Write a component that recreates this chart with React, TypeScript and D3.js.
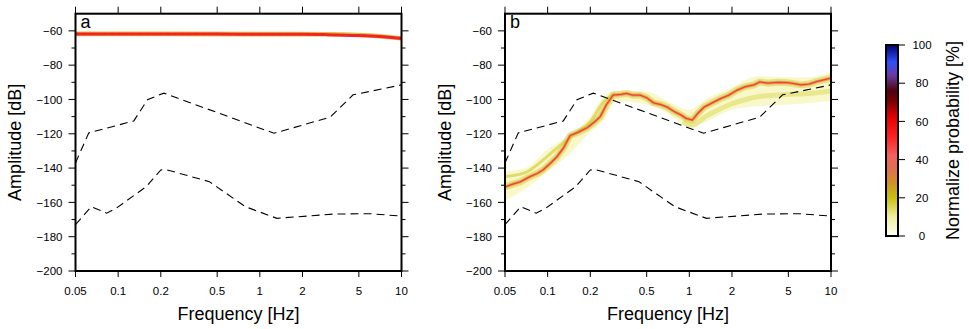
import * as d3 from "d3"

// ---- axes ----
const FREQ_TICKS = [0.05, 0.1, 0.2, 0.5, 1, 2, 5, 10]
const AMP_LABELS = [-60, -80, -100, -120, -140, -160, -180, -200]
const AMP_MINOR = [-70, -90, -110, -130, -150, -170, -190]
const PROB_TICKS = [0, 20, 40, 60, 80, 100]

// ---- noise model (dashed) ----
const HIGH_F = [0.05, 0.062, 0.129, 0.161, 0.21, 1.26, 3.14, 4.55, 10]
const HIGH_DB = [-137, -119.5, -112.5, -100.2, -96.3, -119.7, -110.3, -97.3, -91.5]
const LOW_F = [0.05, 0.0646, 0.083, 0.097, 0.158, 0.2, 0.22, 0.44, 0.79, 1.32, 3.3, 6, 10]
const LOW_DB = [-173, -162.5, -166.3, -163.4, -150.8, -141.1, -141, -147.9, -162.5, -169.3, -166.8, -166.6, -168]

// ---- panel a ----
const A_F = [0.05, 0.1, 0.5, 1, 2, 3, 5, 7, 10]
const A_CORE = [-61.9, -61.9, -61.9, -62, -62, -62.2, -62.7, -63.3, -64.4]
const A_BAND_F = [0.05, 3, 5, 7, 10]
const A_HI = [-60.4, -60.6, -61.1, -61.9, -63.1]
const A_LO = [-63.2, -63.3, -63.8, -64.5, -65.6]

// ---- panel b ----
const B_F = [0.05, 0.056, 0.064, 0.075, 0.085, 0.093, 0.105, 0.116, 0.13, 0.144, 0.165, 0.19, 0.215, 0.235, 0.26, 0.29, 0.33, 0.36, 0.4, 0.45, 0.5, 0.56, 0.63, 0.7, 0.78, 0.87, 0.95, 1.05, 1.15, 1.27, 1.45, 1.66, 1.9, 2.18, 2.5, 2.86, 3.14, 3.6, 4.2, 4.93, 5.5, 6.13, 7, 8, 9, 10]
const B_CORE = [-151, -149.5, -148, -145, -143, -141, -137, -133.5, -128, -121, -119, -116.5, -113, -110, -103, -97.5, -97, -96.5, -97.5, -97.5, -99, -102, -103, -104.5, -107, -109, -111, -112, -108, -104.5, -102, -99.5, -97.5, -94.5, -92.5, -91.5, -89.8, -90.5, -90, -90.2, -90.8, -91.5, -91, -89.5, -88.5, -87.5]
// fainter side bundles
const B_UP_F = [0.05, 0.07, 0.1, 0.13, 0.15, 0.2, 0.25, 0.3]
const B_UP_DB = [-145, -142.5, -133, -125, -121, -113, -101, -96.5]
const B_DN_F = [0.9, 1.05, 1.3, 1.6, 2, 2.5, 3, 4, 5, 7, 10]
const B_DN_DB = [-113, -115, -110, -106, -102.5, -100, -98.5, -97.5, -97, -96.5, -95]
const B_BAND_F = [0.05, 0.07, 0.1, 0.15, 0.2, 0.25, 0.3, 0.5, 0.7, 1, 1.3, 2, 3, 5, 7, 10]
const B_HI = [-142, -140, -129, -119.5, -110, -98, -95, -95.3, -101, -106, -100, -93, -86.6, -87, -87, -84]
const B_LO = [-159, -152, -142, -130, -119, -112, -101, -103, -108, -116, -113, -106, -104, -103, -102, -101]

// ---- colour scale ----
const CMAP_POS = [0, 10, 20, 28, 35, 42, 52, 62, 70, 76, 84, 91, 100]
const CMAP_COL = ["#fffff2", "#f0f0a0", "#c9c00e", "#d09028", "#e07050", "#f26262", "#ff2020", "#e80000", "#800000", "#500010", "#6a3aa0", "#3050ff", "#000070"]

const W = 969
const H = 329
const TOP = 13.7
const BOTTOM = 271
const PW = 326
const FONT = "'Liberation Sans', Arial, Helvetica, sans-serif"

type Scales = { x: d3.ScaleLogarithmic<number, number>; y: d3.ScaleLinear<number, number> }

function Panel({ left, label, id, draw }: { left: number; label: string; id: string; draw: (s: Scales) => React.ReactNode }) {
  const x = d3.scaleLog().domain([0.05, 10]).range([left, left + PW])
  const y = d3.scaleLinear().domain([-200, -50]).range([BOTTOM, TOP])
  const right = left + PW
  const dashed = d3.line<number>().x((_, i) => x(HIGH_F[i])).y((d) => y(d))
  const dashedLow = d3.line<number>().x((_, i) => x(LOW_F[i])).y((d) => y(d))
  return (
    <g>
      <defs>
        <clipPath id={id}>
          <rect x={left} y={TOP} width={PW} height={BOTTOM - TOP} />
        </clipPath>
      </defs>
      <g clipPath={`url(#${id})`}>
        {draw({ x, y })}
        <path d={dashed(HIGH_DB) ?? ""} fill="none" stroke="#000" strokeWidth={1.1} strokeDasharray="8,5" />
        <path d={dashedLow(LOW_DB) ?? ""} fill="none" stroke="#000" strokeWidth={1.1} strokeDasharray="8,5" />
      </g>
      {/* y ticks, both sides */}
      {AMP_LABELS.map((v) => (
        <g key={v}>
          <line x1={left - 7} x2={left} y1={y(v)} y2={y(v)} stroke="#000" strokeWidth={1} />
          <line x1={right} x2={right + 7} y1={y(v)} y2={y(v)} stroke="#000" strokeWidth={1} />
          <text x={left - 13} y={y(v)} dy="0.36em" textAnchor="end" fontSize={11.5} fontFamily={FONT}>
            {v < 0 ? `\u2212${-v}` : v}
          </text>
        </g>
      ))}
      {AMP_MINOR.map((v) => (
        <g key={v}>
          <line x1={left - 4} x2={left} y1={y(v)} y2={y(v)} stroke="#000" strokeWidth={1} />
          <line x1={right} x2={right + 4} y1={y(v)} y2={y(v)} stroke="#000" strokeWidth={1} />
        </g>
      ))}
      {/* x ticks, top and bottom */}
      {FREQ_TICKS.map((f) => (
        <g key={f}>
          <line x1={x(f)} x2={x(f)} y1={TOP - 7} y2={TOP} stroke="#000" strokeWidth={1} />
          <line x1={x(f)} x2={x(f)} y1={BOTTOM} y2={BOTTOM + 6} stroke="#000" strokeWidth={1} />
          <text x={x(f)} y={295} textAnchor="middle" fontSize={11.5} fontFamily={FONT}>
            {f}
          </text>
        </g>
      ))}
      <rect x={left} y={TOP} width={PW} height={BOTTOM - TOP} fill="none" stroke="#000" strokeWidth={2} />
      <rect x={left + 2} y={TOP + 1.5} width={15} height={14} fill="#fff" />
      <text x={left + 5} y={27.5} fontSize={18} fontFamily={FONT}>
        {label}
      </text>
      <text x={(left + right) / 2} y={320} textAnchor="middle" fontSize={18} fontFamily={FONT}>
        Frequency [Hz]
      </text>
      <text transform={`translate(${left - 54.5},${(TOP + BOTTOM) / 2}) rotate(-90)`} textAnchor="middle" fontSize={18} fontFamily={FONT}>
        Amplitude [dB]
      </text>
    </g>
  )
}

function ColorBar() {
  const x0 = 886
  const x1 = 898
  const p = d3.scaleLinear().domain([0, 100]).range([236, 45])
  return (
    <g>
      <defs>
        <linearGradient id="cmap" x1="0" y1="1" x2="0" y2="0">
          {CMAP_POS.map((v, i) => (
            <stop key={v} offset={`${v}%`} stopColor={CMAP_COL[i]} />
          ))}
        </linearGradient>
      </defs>
      <rect x={x0} y={p(100)} width={x1 - x0} height={p(0) - p(100)} fill="url(#cmap)" stroke="#000" strokeWidth={2} />
      {PROB_TICKS.map((t) => (
        <g key={t}>
          <line x1={x1} x2={x1 + 7} y1={p(t)} y2={p(t)} stroke="#000" strokeWidth={1} />
          <text x={922} y={p(t)} dy="0.36em" textAnchor="middle" fontSize={11.5} fontFamily={FONT}>
            {t}
          </text>
        </g>
      ))}
      <text transform={`translate(959,${(p(0) + p(100)) / 2}) rotate(-90)`} textAnchor="middle" fontSize={18} fontFamily={FONT}>
        Normalize probability [%]
      </text>
    </g>
  )
}

export default function App() {
  const cmap = d3.scaleLinear<string>().domain(CMAP_POS).range(CMAP_COL)

  const drawA = ({ x, y }: Scales) => {
    const band = d3
      .area<number>()
      .x((_, i) => x(A_BAND_F[i]))
      .y0((_, i) => y(A_LO[i]))
      .y1((d) => y(d))
      .curve(d3.curveMonotoneX)
    const core = d3
      .line<number>()
      .x((_, i) => x(A_F[i]))
      .y((d) => y(d))
      .curve(d3.curveMonotoneX)
    return (
      <g>
        <path d={band(A_HI) ?? ""} fill={cmap(22)} opacity={0.8} />
        <path d={core(A_CORE) ?? ""} fill="none" stroke={cmap(52)} strokeWidth={3} />
        <path d={core(A_CORE) ?? ""} fill="none" stroke={cmap(92)} strokeWidth={0.7} opacity={0.35} strokeDasharray="3,4" />
      </g>
    )
  }

  const drawB = ({ x, y }: Scales) => {
    const band = d3
      .area<number>()
      .x((_, i) => x(B_BAND_F[i]))
      .y0((_, i) => y(B_LO[i]))
      .y1((d) => y(d))
      .curve(d3.curveMonotoneX)
    const core = d3
      .line<number>()
      .x((_, i) => x(B_F[i]))
      .y((d) => y(d))
    const side = (f: number[]) =>
      d3
        .line<number>()
        .x((_, i) => x(f[i]))
        .y((d) => y(d))
        .curve(d3.curveMonotoneX)
    return (
      <g>
        <path d={band(B_HI) ?? ""} fill={cmap(7)} opacity={0.75} />
        <path d={side(B_DN_F)(B_DN_DB) ?? ""} fill="none" stroke={cmap(14)} strokeWidth={5} opacity={0.6} />
        <path d={side(B_UP_F)(B_UP_DB) ?? ""} fill="none" stroke={cmap(18)} strokeWidth={3} opacity={0.6} />
        <path d={core(B_CORE) ?? ""} fill="none" stroke={cmap(17)} strokeWidth={7} opacity={0.5} strokeLinejoin="round" />
        <path d={core(B_CORE) ?? ""} fill="none" stroke={cmap(30)} strokeWidth={3.2} opacity={0.6} strokeLinejoin="round" />
        <path d={core(B_CORE) ?? ""} fill="none" stroke={cmap(48)} strokeWidth={1.3} strokeLinejoin="round" />
      </g>
    )
  }

  return (
    <svg width={W} height={H} viewBox={`0 0 ${W} ${H}`} style={{ position: "absolute", left: 0, top: 0, background: "#fff" }}>
      <Panel left={75.5} label="a" id="clipA" draw={drawA} />
      <Panel left={505} label="b" id="clipB" draw={drawB} />
      <ColorBar />
    </svg>
  )
}
